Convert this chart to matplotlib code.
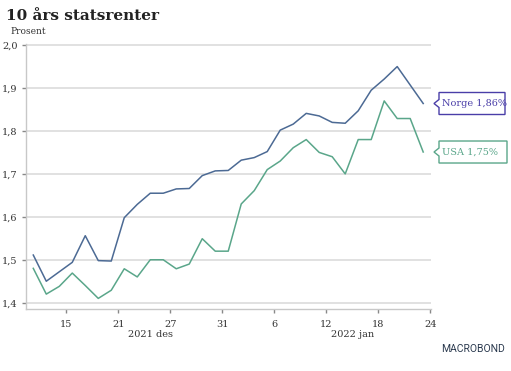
import matplotlib
matplotlib.use('Agg')
import matplotlib.pyplot as plt
from matplotlib.patches import Polygon
import numpy as np

# Business-day index, ticks sit between trading days
tickLabels = ['15', '21', '27', '31', '6', '12', '18', '24']
tickPos = [2.55, 6.55, 10.55, 14.55, 18.55, 22.55, 26.55, 30.55]

norge = [1.511, 1.450, 1.472, 1.494, 1.556, 1.498, 1.497, 1.598, 1.629, 1.655,
         1.655, 1.665, 1.666, 1.696, 1.707, 1.708, 1.732, 1.738, 1.752, 1.802,
         1.816, 1.841, 1.835, 1.820, 1.818, 1.847, 1.895, 1.921, 1.950, 1.907,
         1.864]
usa = [1.480, 1.420, 1.438, 1.469, 1.440, 1.410, 1.429, 1.479, 1.460, 1.500,
       1.500, 1.479, 1.490, 1.549, 1.520, 1.520, 1.630, 1.661, 1.710, 1.730,
       1.761, 1.780, 1.750, 1.740, 1.700, 1.780, 1.780, 1.870, 1.829, 1.829,
       1.751]

yTicks = [1.4, 1.5, 1.6, 1.7, 1.8, 1.9, 2.0]

norgeColor = '#4c6a94'
norgeLabelColor = '#4a3ea8'
usaColor = '#5aa68a'
serif = 'DejaVu Serif'

W, H = 511, 371
fig = plt.figure(figsize=(W / 100, H / 100), dpi=100)
ax = fig.add_axes([26 / W, 1 - 309 / H, 405 / W, 265 / H])

x = np.arange(len(norge))
for yv in yTicks:
    ax.axhline(yv, color='#dcdcdc', lw=1.2, zorder=1)
ax.plot(x, norge, color=norgeColor, lw=1.1, zorder=3)
ax.plot(x, usa, color=usaColor, lw=1.1, zorder=3)

ax.set_xlim(-0.56, 30.6)
ax.set_ylim(1.3853, 2.0026)

for side in ['top', 'right']:
    ax.spines[side].set_visible(False)
ax.spines['left'].set_color('#c8c8c8')
ax.spines['bottom'].set_color('#c8c8c8')
ax.spines['left'].set_linewidth(1.0)
ax.spines['bottom'].set_linewidth(1.0)

ax.set_yticks(yTicks)
ax.set_yticklabels([('%.1f' % v).replace('.', ',') for v in yTicks],
                   fontsize=7, family=serif, color='#333333')
ax.set_xticks(tickPos)
ax.set_xticklabels(tickLabels, fontsize=7, family=serif, color='#333333')
ax.tick_params(axis='y', length=3, width=1, color='#888888', pad=3)
ax.tick_params(axis='x', length=3, width=1, color='#888888', pad=5)

ax.text(9.05, -0.095, '2021 des', transform=ax.get_xaxis_transform(),
        ha='center', va='center', fontsize=7, family=serif, color='#333333')
ax.text(24.6, -0.095, '2022 jan', transform=ax.get_xaxis_transform(),
        ha='center', va='center', fontsize=7, family=serif, color='#333333')

fig.text(6 / W, 1 - 16 / H, '10 års statsrenter', fontsize=11,
         fontweight='bold', family=serif, color='#222222', va='center')
fig.text(10 / W, 1 - 32 / H, 'Prosent', fontsize=6.5, family=serif,
         color='#333333', va='center')
fig.text(505 / W, 1 - 349 / H, 'MACROBOND', fontsize=7.5, family='Roboto',
         color='#2b3a4f', ha='right', va='center')

# end-value callouts
fig.canvas.draw()
def callout(value, text, color, width):
    px, py = ax.transData.transform((len(norge) - 1, value))
    tipX = 434
    left = tipX + 5
    top = py + 11
    bot = py - 11
    verts = [(tipX, py), (left, py + 4), (left, top), (left + width, top),
             (left + width, bot), (left, bot), (left, py - 4)]
    verts = [(vx / W, vy / H) for vx, vy in verts]
    fig.patches.append(Polygon(verts, closed=True, facecolor='white',
                               edgecolor=color, lw=1.0,
                               transform=fig.transFigure, figure=fig))
    fig.text((left + 2.5) / W, py / H, text, fontsize=7, family=serif,
             color=color, va='center', ha='left')

callout(norge[-1], 'Norge 1,86%', norgeLabelColor, 66)
callout(usa[-1], 'USA 1,75%', usaColor, 68)

fig.savefig('out.png', dpi=100)
